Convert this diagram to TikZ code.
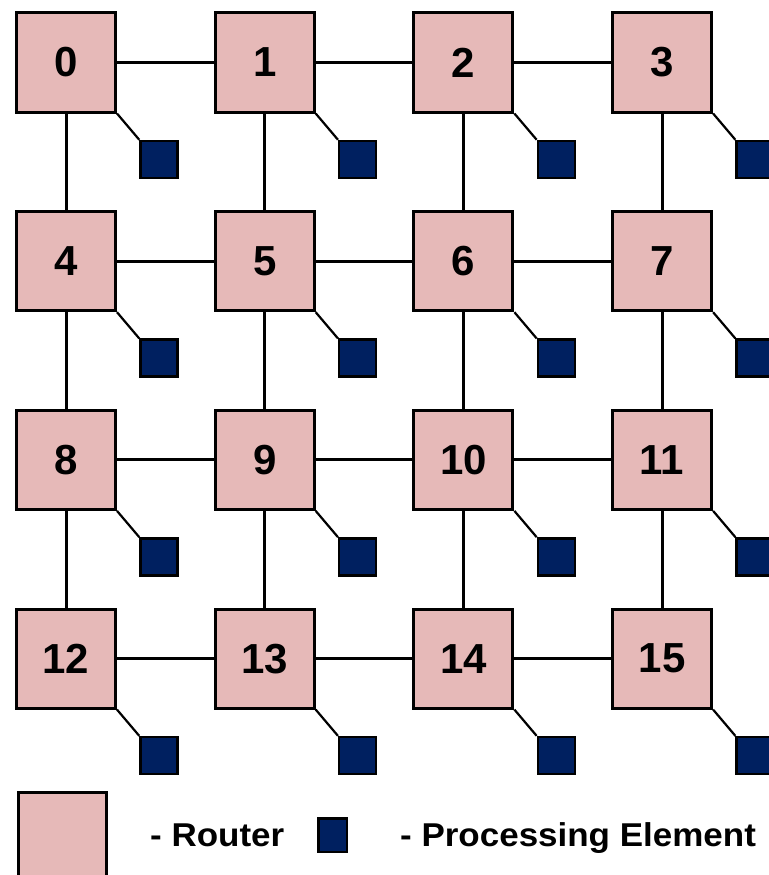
\documentclass[tikz,border=0pt]{standalone}
\usepackage{fontspec}
\setmainfont{Liberation Sans}
\usepackage{graphicx}
\definecolor{routerfill}{RGB}{230,185,184}
\definecolor{pefill}{RGB}{0,32,96}
\begin{document}
\begin{tikzpicture}[x=1pt,y=-1pt,
  router/.style={draw=black,line width=3pt,fill=routerfill,minimum size=99pt,inner sep=0pt,
    font=\fontsize{42}{42}\selectfont\bfseries},
  pe/.style={draw=black,line width=2.5pt,fill=pefill,minimum size=37pt,inner sep=0pt},
  link/.style={draw=black,line width=3pt},
  pelink/.style={draw=black,line width=2.2pt},
  legtext/.style={font=\fontsize{33}{33}\selectfont\bfseries,inner sep=0pt,anchor=base west}]
\useasboundingbox (0,0) rectangle (768,875);
\fill[white] (0,0) rectangle (768,875);
\foreach \r in {0,...,3}{
  \foreach \c in {0,...,3}{
    \pgfmathtruncatemacro\n{4*\r+\c}
    \node[router] (r\n) at ({66+198.7*\c},{62.5+198.7*\r}) {\n};
    \node[pe] (p\n) at ({66+198.7*\c+93},{62.5+198.7*\r+97}) {};
    \draw[pelink] (r\n.south east) -- (p\n.north west);
  }
}
\foreach \r in {0,...,3}{
  \foreach \c in {0,...,2}{
    \pgfmathtruncatemacro\a{4*\r+\c}
    \pgfmathtruncatemacro\b{4*\r+\c+1}
    \draw[link] (r\a.east) -- (r\b.west);
  }
}
\foreach \r in {0,...,2}{
  \foreach \c in {0,...,3}{
    \pgfmathtruncatemacro\a{4*\r+\c}
    \pgfmathtruncatemacro\b{4*\r+\c+4}
    \draw[link] (r\a.south) -- (r\b.north);
  }
}
% legend
\node[draw=black,line width=3pt,fill=routerfill,minimum width=88pt,minimum height=100pt,
  inner sep=0pt,anchor=north west] (legR) at (16.5,790.5) {};
\node[legtext] (legRt) at (150,846) {\scalebox{1.06}[1]{- Router}};
\node[draw=black,line width=2.5pt,fill=pefill,minimum width=28.5pt,minimum height=33.5pt,
  inner sep=0pt] (legP) at (332.5,835) {};
\node[legtext] (legPt) at (400,846) {\scalebox{1.06}[1]{- Processing Element}};
\end{tikzpicture}
\end{document}
